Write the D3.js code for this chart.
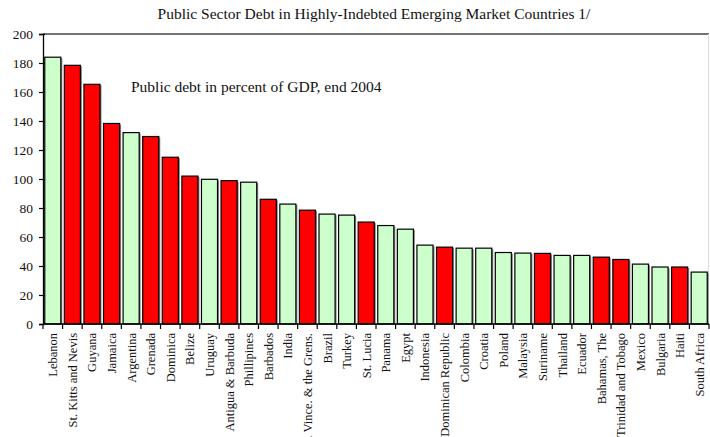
<!DOCTYPE html>
<html>
<head>
<meta charset="utf-8">
<script src="https://cdn.jsdelivr.net/npm/d3@7"></script>
<style>
  html, body { margin: 0; padding: 0; background: #fff; }
  svg { display: block; font-family: "Liberation Serif", "Times New Roman", serif; }
</style>
</head>
<body>
<svg id="chart" width="710" height="437"></svg>
<script>
// Public debt in percent of GDP, end 2004
const countries = [
  "Lebanon", "St. Kitts and Nevis", "Guyana", "Jamaica", "Argentina", "Grenada",
  "Dominica", "Belize", "Uruguay", "Antigua & Barbuda", "Phillipines", "Barbados",
  "India", "St. Vince. & the Grens.", "Brazil", "Turkey", "St. Lucia", "Panama",
  "Egypt", "Indonesia", "Dominican Republic", "Colombia", "Croatia", "Poland",
  "Malaysia", "Suriname", "Thailand", "Ecuador", "Bahamas, The", "Trinidad and Tobago",
  "Mexico", "Bulgaria", "Haiti", "South Africa"
];
const debt = [
  184, 178.4, 165.3, 138.3, 132, 129.3,
  115, 102, 99.8, 98.9, 97.8, 86,
  82.7, 78.5, 75.8, 75.1, 70.3, 67.9,
  65.4, 54.4, 53, 52.3, 52.3, 49.3,
  48.9, 48.7, 47.3, 47.3, 46.1, 44.5,
  41.3, 39.3, 39.3, 35.8
];
// Group flag: 1 = highlighted (red), 0 = other (light green)
const group = [
  0, 1, 1, 1, 0, 1,
  1, 1, 0, 1, 0, 1,
  0, 1, 0, 0, 1, 0,
  0, 0, 1, 0, 0, 0,
  0, 1, 0, 0, 1, 1,
  0, 0, 1, 0
];
const yTicks = [0, 20, 40, 60, 80, 100, 120, 140, 160, 180, 200];
const titleText = "Public Sector Debt in Highly-Indebted Emerging Market Countries 1/";
const noteText = "Public debt in percent of GDP, end 2004";

const svg = d3.select("#chart");
const m = { left: 43, right: 1, top: 34, bottom: 113 };
const W = 710, H = 437;

const x = d3.scaleBand().domain(countries).range([m.left, W - m.right]).paddingInner(0.18).paddingOuter(0.09);
const xTick = d3.scaleBand().domain(countries).range([m.left, W - m.right]).padding(0);
const y = d3.scaleLinear().domain([0, 200]).range([H - m.bottom, m.top]);

// Title
svg.append("text")
  .attr("x", 374).attr("y", 19)
  .attr("text-anchor", "middle")
  .attr("font-size", 15.5)
  .attr("fill", "#111")
  .text(titleText);

// Top frame line and right edge
svg.append("line")
  .attr("x1", m.left).attr("x2", W - 1)
  .attr("y1", y(200)).attr("y2", y(200))
  .attr("stroke", "#444").attr("stroke-width", 1.5);
svg.append("line")
  .attr("x1", W - 1.5).attr("x2", W - 1.5)
  .attr("y1", y(200)).attr("y2", y(0))
  .attr("stroke", "#ddd").attr("stroke-width", 1);

// Bars with a soft gray shadow on the right/bottom
const data = countries.map((c, i) => ({ c, v: debt[i], g: group[i] }));
svg.append("g").selectAll("rect").data(data).join("rect")
  .attr("x", d => x(d.c) + 1.5)
  .attr("y", d => y(d.v) + 1)
  .attr("width", x.bandwidth())
  .attr("height", d => y(0) - y(d.v) - 1)
  .attr("fill", "#888");
svg.append("g").selectAll("rect").data(data).join("rect")
  .attr("x", d => x(d.c))
  .attr("y", d => y(d.v))
  .attr("width", x.bandwidth())
  .attr("height", d => y(0) - y(d.v))
  .attr("fill", d => d.g ? "#FF0000" : "#CCFFCC")
  .attr("stroke", "#000")
  .attr("stroke-width", 1.2);

// Y axis
const yAxis = svg.append("g")
  .attr("transform", `translate(${m.left},0)`)
  .call(d3.axisLeft(y).tickValues(yTicks).tickSize(4).tickPadding(6));
yAxis.select(".domain").attr("stroke", "#000").attr("stroke-width", 1.3);
yAxis.selectAll(".tick line").attr("stroke", "#000").attr("stroke-width", 1.2).attr("x2", -4).attr("x1", 2);
yAxis.selectAll(".tick text")
  .attr("font-family", "Liberation Serif, Times New Roman, serif")
  .attr("font-size", 13.5).attr("fill", "#111");

// X axis: ticks at category boundaries, labels rotated
const xg = svg.append("g").attr("transform", `translate(0,${y(0)})`);
xg.append("line")
  .attr("x1", m.left).attr("x2", W - 1)
  .attr("stroke", "#000").attr("stroke-width", 1.3);
xg.selectAll("line.tk").data(countries.concat(["__end"])).join("line")
  .attr("class", "tk")
  .attr("x1", (d, i) => i < countries.length ? xTick(d) : W - 1)
  .attr("x2", (d, i) => i < countries.length ? xTick(d) : W - 1)
  .attr("y1", 0).attr("y2", 5)
  .attr("stroke", "#000").attr("stroke-width", 1.2);
xg.selectAll("text").data(countries).join("text")
  .attr("transform", d => `translate(${xTick(d) + xTick.bandwidth() / 2 + 4.5},9) rotate(-90)`)
  .attr("text-anchor", "end")
  .attr("font-size", 12.5)
  .attr("fill", "#111")
  .text(d => d);

// Annotation
svg.append("text")
  .attr("x", 131).attr("y", 92)
  .attr("font-size", 15.5)
  .attr("fill", "#111")
  .text(noteText);
</script>
</body>
</html>
